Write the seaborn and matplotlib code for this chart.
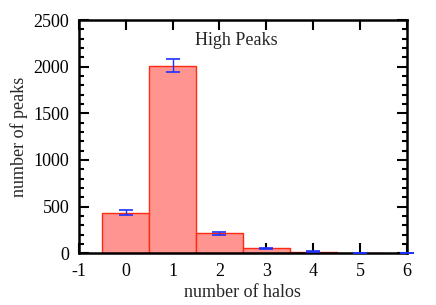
import numpy as np
import pandas as pd
import matplotlib
matplotlib.use('Agg')
import matplotlib.pyplot as plt
from matplotlib.ticker import MultipleLocator
import seaborn as sns

halos = [0, 1, 2, 3, 4, 5]
peaks = [435, 2012, 215, 50, 17, 2]
errors = [25, 70, 15, 10, 6, 2]

sns.set_style('ticks')
plt.rcParams['font.family'] = ['Liberation Serif', 'DejaVu Serif']
plt.rcParams['font.size'] = 13
plt.rcParams['axes.unicode_minus'] = False

df = pd.DataFrame({'halos': halos, 'peaks': peaks})

fig = plt.figure(figsize=(4.36, 3.05), dpi=100)
ax = fig.add_axes([0.181, 0.17, 0.752, 0.764])
sns.barplot(data=df, x='halos', y='peaks', native_scale=True, width=1.0,
            color='#ff9490', saturation=1, edgecolor='#ff2a10', linewidth=1.0,
            errorbar=None, ax=ax)
ax.errorbar(halos, peaks, yerr=errors, fmt='none', ecolor='#1c30ff',
            elinewidth=1.0, capsize=5, capthick=1.2, zorder=5)
# last point sits on the right border (value zero)
ax.errorbar([6], [0], yerr=[0], fmt='none', ecolor='#1c30ff', capsize=5,
            capthick=1.2, clip_on=False, zorder=5)

ax.set_xlim(-1, 6)
ax.set_ylim(0, 2500)
ax.xaxis.set_major_locator(MultipleLocator(1))
ax.yaxis.set_major_locator(MultipleLocator(500))
ax.yaxis.set_minor_locator(MultipleLocator(100))
ax.tick_params(which='both', direction='in', top=True, right=True,
               width=1.5, labelsize=13, colors='black')
ax.tick_params(which='major', length=7, pad=7)
ax.tick_params(which='minor', length=3.5)
ax.tick_params(axis='x', which='minor', length=0)
for s in ax.spines.values():
    s.set_linewidth(1.8)
    s.set_color('black')

ax.set_xlabel('number of halos', fontsize=13, labelpad=3)
ax.set_ylabel('number of peaks', fontsize=13, labelpad=4)
ax.text(0.354, 0.895, 'High Peaks', transform=ax.transAxes, fontsize=13)

fig.savefig('out.png', dpi=100)
